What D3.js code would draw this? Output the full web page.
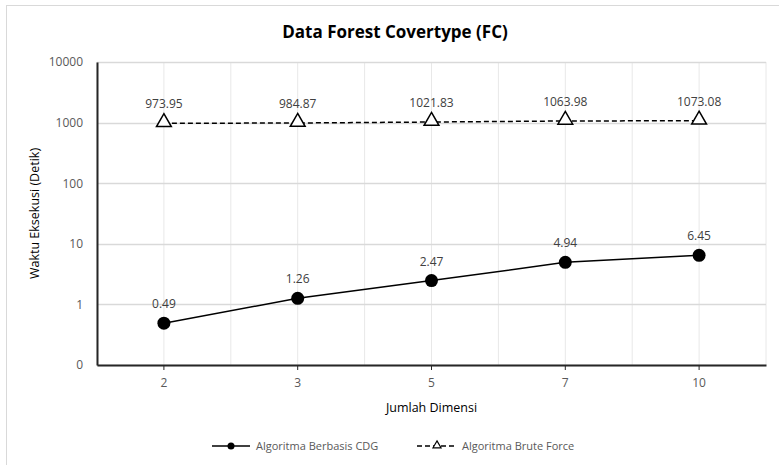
<!DOCTYPE html>
<html>
<head>
<meta charset="utf-8">
<script src="https://cdn.jsdelivr.net/npm/d3@7"></script>
<style>
  body { margin: 0; background: #fff; }
  svg text { font-family: "Open Sans", "Noto Sans", sans-serif; }
</style>
</head>
<body>
<div id="chart"></div>
<script>
var dimensi = ["2", "3", "5", "7", "10"];
var cdg = [0.49, 1.26, 2.47, 4.94, 6.45];
var bruteForce = [973.95, 984.87, 1021.83, 1063.98, 1073.08];
var yTicks = [0.1, 1, 10, 100, 1000, 10000];
var yTickLabels = ["0", "1", "10", "100", "1000", "10000"];
var seriesNames = ["Algoritma Berbasis CDG", "Algoritma Brute Force"];

var width = 779, height = 465;
var margin = {top: 62, right: 13, bottom: 100, left: 97};
var plot_w = width - margin.left - margin.right;
var plot_h = height - margin.top - margin.bottom;

var svg = d3.select("#chart").append("svg")
    .attr("width", width)
    .attr("height", height);

// chart border
svg.append("rect")
    .attr("x", 6.5).attr("y", 5.5)
    .attr("width", width).attr("height", height)
    .attr("fill", "none")
    .attr("stroke", "#d9d9d9");

svg.append("text")
    .attr("x", 395).attr("y", 38)
    .attr("text-anchor", "middle")
    .attr("font-size", "17px")
    .attr("font-weight", "bold")
    .attr("fill", "#000")
    .text("Data Forest Covertype (FC)");

var xscale = d3.scaleBand()
    .domain(dimensi)
    .range([0, plot_w]);

var yscale = d3.scaleLog()
    .domain([0.1, 10000])
    .range([plot_h, 0]);

var g = svg.append("g")
    .attr("transform", "translate(" + margin.left + "," + margin.top + ")");

// vertical gridlines: at category centers and boundaries
var vlines = [];
dimensi.forEach(function(d) {
    vlines.push(xscale(d));
    vlines.push(xscale(d) + xscale.bandwidth() / 2);
});
vlines.push(plot_w);
g.selectAll(".vgrid")
    .data(vlines)
    .enter().append("line")
    .attr("class", "vgrid")
    .attr("x1", function(d) { return d; })
    .attr("x2", function(d) { return d; })
    .attr("y1", 0).attr("y2", plot_h)
    .attr("stroke", "#e8e8e8")
    .attr("stroke-width", 1);

// horizontal gridlines
g.selectAll(".hgrid")
    .data(yTicks)
    .enter().append("line")
    .attr("class", "hgrid")
    .attr("x1", 0).attr("x2", plot_w)
    .attr("y1", function(d) { return Math.round(yscale(d)) + 0.5; })
    .attr("y2", function(d) { return Math.round(yscale(d)) + 0.5; })
    .attr("stroke", "#d9d9d9")
    .attr("stroke-width", 1.3);

// y axis
var yaxis = d3.axisLeft(yscale)
    .tickValues(yTicks)
    .tickSize(0)
    .tickPadding(14)
    .tickFormat(function(d, i) { return yTickLabels[i]; });
var gy = g.append("g").call(yaxis);
gy.select(".domain").attr("stroke", "#262626").attr("stroke-width", 2);
gy.selectAll("text").attr("font-size", "12px").attr("fill", "#595959")
    .attr("font-family", "'Open Sans', sans-serif");

// x axis
var xaxis = d3.axisBottom(xscale)
    .tickSize(5)
    .tickSizeOuter(0)
    .tickPadding(8);
var gx = g.append("g")
    .attr("transform", "translate(0," + plot_h + ")")
    .call(xaxis);
gx.select(".domain").attr("stroke", "#262626").attr("stroke-width", 2);
gx.selectAll(".tick line").attr("stroke", "#262626");
gx.selectAll("text").attr("font-size", "12px").attr("fill", "#595959")
    .attr("font-family", "'Open Sans', sans-serif");

// axis titles
svg.append("text")
    .attr("transform", "translate(39," + (margin.top + plot_h / 2) + ") rotate(-90)")
    .attr("text-anchor", "middle")
    .attr("font-size", "12.5px")
    .attr("fill", "#000")
    .text("Waktu Eksekusi (Detik)");

svg.append("text")
    .attr("x", margin.left + plot_w / 2)
    .attr("y", 412)
    .attr("text-anchor", "middle")
    .attr("font-size", "12.5px")
    .attr("fill", "#000")
    .text("Jumlah Dimensi");

var cx = function(d, i) { return xscale(dimensi[i]) + xscale.bandwidth() / 2; };
var line = d3.line()
    .x(function(d, i) { return cx(d, i); })
    .y(function(d) { return yscale(d); });

// brute force series
g.append("path")
    .datum(bruteForce)
    .attr("d", line)
    .attr("fill", "none")
    .attr("stroke", "#000")
    .attr("stroke-width", 1.5)
    .attr("stroke-dasharray", "5,3");

var tri = d3.symbol().type(d3.symbolTriangle).size(95);
g.selectAll(".tri")
    .data(bruteForce)
    .enter().append("path")
    .attr("class", "tri")
    .attr("d", tri)
    .attr("transform", function(d, i) { return "translate(" + cx(d, i) + "," + (yscale(d) - 1) + ")"; })
    .attr("fill", "#fff")
    .attr("stroke", "#000")
    .attr("stroke-width", 1.5);

g.selectAll(".bflabel")
    .data(bruteForce)
    .enter().append("text")
    .attr("class", "bflabel")
    .attr("x", function(d, i) { return cx(d, i); })
    .attr("y", function(d) { return yscale(d) - 15; })
    .attr("text-anchor", "middle")
    .attr("font-size", "12px")
    .attr("fill", "#404040")
    .text(function(d) { return d3.format(".2f")(d); });

// CDG series
g.append("path")
    .datum(cdg)
    .attr("d", line)
    .attr("fill", "none")
    .attr("stroke", "#000")
    .attr("stroke-width", 1.5);

g.selectAll(".dot")
    .data(cdg)
    .enter().append("circle")
    .attr("class", "dot")
    .attr("cx", function(d, i) { return cx(d, i); })
    .attr("cy", function(d) { return yscale(d); })
    .attr("r", 6.5)
    .attr("fill", "#000");

g.selectAll(".cdglabel")
    .data(cdg)
    .enter().append("text")
    .attr("class", "cdglabel")
    .attr("x", function(d, i) { return cx(d, i); })
    .attr("y", function(d) { return yscale(d) - 15; })
    .attr("text-anchor", "middle")
    .attr("font-size", "12px")
    .attr("fill", "#404040")
    .text(function(d) { return d3.format(".2f")(d); });

// legend
var legend = svg.append("g").attr("transform", "translate(0,446)");
var l1 = legend.append("g").attr("transform", "translate(212,0)");
l1.append("line").attr("x1", 0).attr("x2", 38).attr("y1", 0).attr("y2", 0)
    .attr("stroke", "#000").attr("stroke-width", 1.5);
l1.append("circle").attr("cx", 19).attr("cy", 0).attr("r", 3.5).attr("fill", "#000");
l1.append("text").attr("x", 44).attr("y", 4).attr("font-size", "11px").attr("fill", "#595959")
    .text(seriesNames[0]);

var l2 = legend.append("g").attr("transform", "translate(417,0)");
l2.append("line").attr("x1", 0).attr("x2", 40).attr("y1", 0).attr("y2", 0)
    .attr("stroke", "#000").attr("stroke-width", 1.5).attr("stroke-dasharray", "5,3");
l2.append("path").attr("d", d3.symbol().type(d3.symbolTriangle).size(28))
    .attr("transform", "translate(20,-0.5)")
    .attr("fill", "#fff").attr("stroke", "#000").attr("stroke-width", 1.2);
l2.append("text").attr("x", 45).attr("y", 4).attr("font-size", "11px").attr("fill", "#595959")
    .text(seriesNames[1]);
</script>
</body>
</html>
